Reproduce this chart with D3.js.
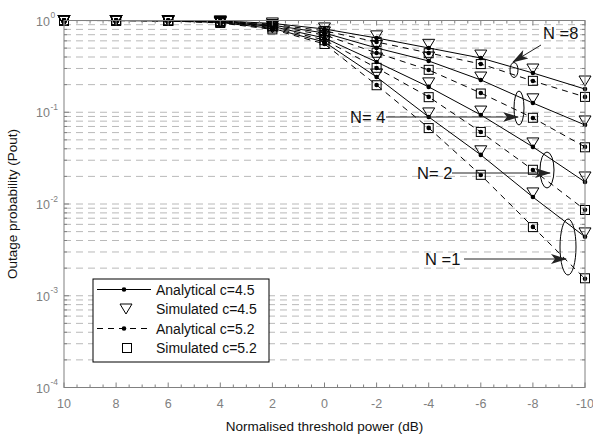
<!DOCTYPE html>
<html>
<head>
<meta charset="UTF-8">
<title>Outage probability</title>
<script src="https://d3js.org/d3.v7.min.js"></script>
<style>
  body { margin: 0; background: #fff; font-family: "Liberation Sans", Arial, sans-serif; }
</style>
</head>
<body>
<div id="chart"></div>
<script>
// threshold power in dB (x axis runs from 10 down to -10)
const thresholdDb = [10, 8, 6, 4, 2, 0, -2, -4, -6, -8, -10];
const xTickLabels = ["10", "8", "6", "4", "2", "0", "-2", "-4", "-6", "-8", "-10"];
const yTickExps = [0, -1, -2, -3, -4];
const legendLabels = ["Analytical c=4.5", "Simulated c=4.5", "Analytical c=5.2", "Simulated c=5.2"];

// analytical c=4.5 (solid)
const anaC45_N8 = [1.0, 1.0, 0.999, 0.99, 0.93, 0.808, 0.645, 0.502, 0.39, 0.268, 0.179];
const anaC45_N4 = [1.0, 1.0, 0.998, 0.98, 0.89, 0.731, 0.502, 0.362, 0.225, 0.126, 0.0727];
const anaC45_N2 = [1.0, 0.999, 0.995, 0.965, 0.86, 0.645, 0.353, 0.189, 0.0935, 0.0419, 0.0174];
const anaC45_N1 = [1.0, 0.999, 0.99, 0.95, 0.82, 0.583, 0.242, 0.0889, 0.0343, 0.0119, 0.00439];
// analytical c=5.2 (dashed)
const anaC52_N8 = [1.0, 1.0, 0.999, 0.988, 0.91, 0.77, 0.583, 0.443, 0.336, 0.219, 0.147];
const anaC52_N4 = [1.0, 1.0, 0.997, 0.975, 0.87, 0.695, 0.443, 0.289, 0.162, 0.0867, 0.0419];
const anaC52_N2 = [1.0, 0.999, 0.993, 0.96, 0.84, 0.613, 0.304, 0.147, 0.061, 0.0235, 0.00863];
const anaC52_N1 = [1.0, 0.998, 0.988, 0.94, 0.80, 0.555, 0.198, 0.0675, 0.0207, 0.00563, 0.00153];
// simulated c=4.5 (triangles)
const simC45_N8 = [1.0, 1.0, 0.999, 0.99, 0.94, 0.83, 0.68, 0.55, 0.42, 0.296, 0.219];
const simC45_N4 = [1.0, 1.0, 0.998, 0.98, 0.90, 0.75, 0.535, 0.40, 0.242, 0.14, 0.0804];
const simC45_N2 = [1.0, 0.999, 0.995, 0.965, 0.87, 0.66, 0.39, 0.209, 0.103, 0.0463, 0.0197];
const simC45_N1 = [1.0, 0.999, 0.99, 0.95, 0.83, 0.60, 0.261, 0.0983, 0.038, 0.0132, 0.00484];
// simulated c=5.2 (squares)
const simC52_N8 = [1.0, 1.0, 0.999, 0.988, 0.91, 0.77, 0.585, 0.44, 0.335, 0.22, 0.147];
const simC52_N4 = [1.0, 1.0, 0.997, 0.975, 0.87, 0.69, 0.445, 0.29, 0.16, 0.087, 0.0415];
const simC52_N2 = [1.0, 0.999, 0.993, 0.96, 0.84, 0.61, 0.305, 0.146, 0.061, 0.0236, 0.0086];
const simC52_N1 = [1.0, 0.998, 0.988, 0.94, 0.80, 0.555, 0.197, 0.0672, 0.0208, 0.0056, 0.00155];

const width = 593, height = 435;
const margin = { top: 20.5, right: 8, bottom: 47.5, left: 64 };

const svg = d3.select("#chart").append("svg")
  .attr("width", width).attr("height", height)
  .style("font-family", '"Liberation Sans", Arial, sans-serif');

const x = d3.scaleLinear().domain([10, -10]).range([margin.left, width - margin.right]);
const y = d3.scaleLog().domain([1e-4, 1]).range([height - margin.bottom, margin.top]);

const x0 = x.range()[0], x1 = x.range()[1];
const y0 = y.range()[0], y1 = y.range()[1];

// horizontal dashed grid at every log tick
const logTicks = [];
for (let e = -4; e < 0; e++) {
  for (let k = 1; k <= 9; k++) logTicks.push(k * Math.pow(10, e));
}
svg.append("g").selectAll("line").data(logTicks.filter(v => v > 1e-4)).enter().append("line")
  .attr("x1", x0).attr("x2", x1)
  .attr("y1", d => y(d)).attr("y2", d => y(d))
  .attr("stroke", "#b9b9b9").attr("stroke-width", 1)
  .attr("stroke-dasharray", "7,5");

// curves
const line = d3.line().x((d, i) => x(thresholdDb[i])).y(d => y(d));
const anaSolid = [anaC45_N8, anaC45_N4, anaC45_N2, anaC45_N1];
const anaDashed = [anaC52_N8, anaC52_N4, anaC52_N2, anaC52_N1];
const simTri = [simC45_N8, simC45_N4, simC45_N2, simC45_N1];
const simSq = [simC52_N8, simC52_N4, simC52_N2, simC52_N1];

const plot = svg.append("g");
anaDashed.forEach(s => {
  plot.append("path").attr("d", line(s)).attr("fill", "none")
    .attr("stroke", "#000").attr("stroke-width", 1).attr("stroke-dasharray", "6,5");
});
anaSolid.forEach(s => {
  plot.append("path").attr("d", line(s)).attr("fill", "none")
    .attr("stroke", "#000").attr("stroke-width", 1);
});

const triPath = "M-6,-5L6,-5L0,5Z";
simTri.forEach(s => {
  plot.append("g").selectAll("path").data(s).enter().append("path")
    .attr("d", triPath)
    .attr("transform", (d, i) => `translate(${x(thresholdDb[i])},${y(d)})`)
    .attr("fill", "none").attr("stroke", "#000").attr("stroke-width", 1);
});
simSq.forEach(s => {
  plot.append("g").selectAll("rect").data(s).enter().append("rect")
    .attr("x", (d, i) => x(thresholdDb[i]) - 4.5).attr("y", d => y(d) - 4.5)
    .attr("width", 9).attr("height", 9)
    .attr("fill", "none").attr("stroke", "#000").attr("stroke-width", 1);
});
anaSolid.concat(anaDashed).forEach(s => {
  plot.append("g").selectAll("circle").data(s).enter().append("circle")
    .attr("cx", (d, i) => x(thresholdDb[i])).attr("cy", d => y(d))
    .attr("r", 2.3).attr("fill", "#000");
});

// axes box and ticks
const axisCol = "#808080";
svg.append("rect").attr("x", x0).attr("y", y1).attr("width", x1 - x0).attr("height", y0 - y1)
  .attr("fill", "none").attr("stroke", axisCol).attr("stroke-width", 1);

const xMinor = d3.range(-10, 10.01, 0.5);
const tk = svg.append("g").attr("stroke", axisCol).attr("stroke-width", 1);
xMinor.forEach(v => {
  const len = Math.abs(v % 2) < 1e-6 ? 5 : 3;
  tk.append("line").attr("x1", x(v)).attr("x2", x(v)).attr("y1", y0).attr("y2", y0 - len);
  tk.append("line").attr("x1", x(v)).attr("x2", x(v)).attr("y1", y1).attr("y2", y1 + len);
});
logTicks.forEach(v => {
  const len = Math.abs(Math.log10(v) % 1) < 1e-6 ? 5 : 3;
  tk.append("line").attr("x1", x0).attr("x2", x0 + len).attr("y1", y(v)).attr("y2", y(v));
  tk.append("line").attr("x1", x1).attr("x2", x1 - len).attr("y1", y(v)).attr("y2", y(v));
});

svg.append("g").selectAll("text").data(thresholdDb).enter().append("text")
  .attr("x", d => x(d)).attr("y", y0 + 20)
  .attr("text-anchor", "middle").attr("font-size", 12.5).attr("fill", axisCol)
  .text((d, i) => xTickLabels[i]);

const yl = svg.append("g").attr("fill", axisCol);
yTickExps.forEach(e => {
  const yy = y(Math.pow(10, e));
  yl.append("text").attr("x", 50).attr("y", yy + 5).attr("text-anchor", "end")
    .attr("font-size", 12.5).text("10");
  yl.append("text").attr("x", 50.5).attr("y", yy - 2.5).attr("font-size", 8.5).text(e);
});

svg.append("text").attr("x", (x0 + x1) / 2).attr("y", 431)
  .attr("text-anchor", "middle").attr("font-size", 13.5).attr("fill", "#111")
  .text("Normalised threshold power (dB)");
svg.append("text").attr("transform", `translate(17,${(y0 + y1) / 2}) rotate(-90)`)
  .attr("text-anchor", "middle").attr("font-size", 13.5).attr("fill", "#111")
  .text("Outage probability (Pout)");

// annotations: ellipses, arrows, labels
const defs = svg.append("defs");
defs.append("marker").attr("id", "ah").attr("viewBox", "0 0 16 12")
  .attr("refX", 15).attr("refY", 6).attr("markerWidth", 16).attr("markerHeight", 12)
  .attr("markerUnits", "userSpaceOnUse").attr("orient", "auto")
  .append("path").attr("d", "M0,1L16,6L0,11L4,6Z").attr("fill", "#222");

const ann = svg.append("g");
const ellipses = [
  { cx: 514, cy: 70, rx: 4, ry: 7.5 },
  { cx: 519, cy: 108, rx: 5, ry: 17 },
  { cx: 547, cy: 170, rx: 7, ry: 18 },
  { cx: 568, cy: 247, rx: 8, ry: 28 }
];
ellipses.forEach(e => {
  ann.append("ellipse").attr("cx", e.cx).attr("cy", e.cy).attr("rx", e.rx).attr("ry", e.ry)
    .attr("fill", "none").attr("stroke", "#000").attr("stroke-width", 1);
});
const arrows = [
  [541, 45, 513, 62],
  [386, 117, 518, 117],
  [452, 173, 550, 173],
  [464, 259, 566, 259]
];
arrows.forEach(a => {
  ann.append("line").attr("x1", a[0]).attr("y1", a[1]).attr("x2", a[2]).attr("y2", a[3])
    .attr("stroke", "#222").attr("stroke-width", 1).attr("marker-end", "url(#ah)");
});
const labels = [
  { x: 543, y: 39, t: "N =8" },
  { x: 350, y: 123, t: "N= 4" },
  { x: 417, y: 179, t: "N= 2" },
  { x: 425, y: 265, t: "N =1" }
];
labels.forEach(l => {
  ann.append("text").attr("x", l.x).attr("y", l.y).attr("font-size", 16.5).attr("fill", "#111").text(l.t);
});

// legend
const lg = svg.append("g");
lg.append("rect").attr("x", 93).attr("y", 279).attr("width", 176).attr("height", 83)
  .attr("fill", "#fff").attr("stroke", "#000").attr("stroke-width", 1);
legendLabels.forEach((t, i) => {
  const ry = 289.5 + i * 19.5;
  if (i === 0 || i === 2) {
    lg.append("line").attr("x1", 97).attr("x2", 151).attr("y1", ry).attr("y2", ry)
      .attr("stroke", "#000").attr("stroke-width", 1)
      .attr("stroke-dasharray", i === 2 ? "6,5" : null);
    lg.append("circle").attr("cx", 124).attr("cy", ry).attr("r", 2.3).attr("fill", "#000");
  } else if (i === 1) {
    lg.append("path").attr("d", triPath).attr("transform", `translate(126,${ry})`)
      .attr("fill", "none").attr("stroke", "#000");
  } else {
    lg.append("rect").attr("x", 122.5).attr("y", ry - 4.5).attr("width", 9).attr("height", 9)
      .attr("fill", "none").attr("stroke", "#000");
  }
  lg.append("text").attr("x", 156).attr("y", ry + 5).attr("font-size", 14).attr("fill", "#111").text(t);
});
</script>
</body>
</html>
